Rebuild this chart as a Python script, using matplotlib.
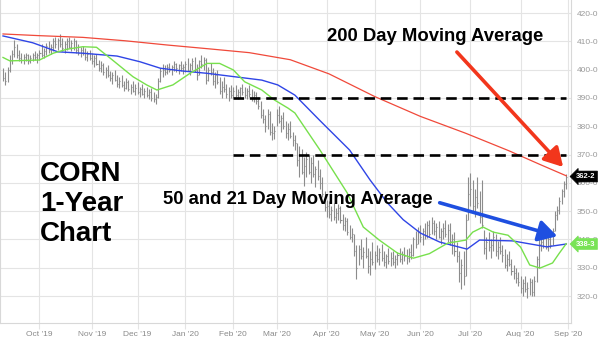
import numpy as np
import pandas as pd
import matplotlib
matplotlib.use("Agg")
import matplotlib.pyplot as plt

plt.rcParams['font.family'] = ['Liberation Sans', 'DejaVu Sans']

# ---- trading calendar -------------------------------------------------------
first_day = "2019-09-09"
last_day = "2020-08-31"
market_holidays = ["2019-11-28", "2019-12-25", "2020-01-01", "2020-01-20",
                   "2020-02-17", "2020-04-10", "2020-05-25", "2020-07-03"]

# ---- daily bars (cents/bu): Sep '19 ... Aug '20 ---------------------------
high = [
    400.5, 399, 401, 405, 407, 410.5, 409, 407, 406, 405.5, 406, 405.5, 405, 406, 406.5, 406,
    407, 409, 407.5, 409.5, 410, 409, 411, 411.5, 411, 412.5, 411, 410, 411, 411.5, 410.5, 411, 410.5, 409, 408, 408.5, 407.5, 406.5, 407,
    406, 405, 405.5, 403.5, 403, 402.5, 401, 401.5, 399.5, 399, 400, 398, 397.5, 398, 396, 397, 396.5, 395, 396, 395,
    395.5, 394, 395, 393.5, 394, 393, 393.5, 392, 391.5, 397, 400.5, 402, 401.5, 402, 402.5, 401.5, 403, 402.5, 402, 403, 402,
    403, 404, 402.5, 404, 404.5, 402, 403.5, 405, 404.5, 404, 401, 402.5, 400.5, 399, 400, 397.5, 396, 397.5, 395, 394, 394.5,
    394, 394.5, 393, 394, 395, 394, 393.5, 394.5, 393, 392.5, 392, 390.5, 389, 386, 384, 386, 385.5, 381, 380,
    386, 387, 384, 385, 382, 381, 382, 378, 377, 374, 373, 372, 369, 371, 370, 369, 370, 366, 368, 365, 362, 357,
    354, 353.5, 352, 353, 351, 352.5, 352, 349, 348, 347.5, 345, 344, 342, 338, 338, 340, 337.5, 341, 337, 336, 339,
    336, 338, 337, 338.5, 336, 335, 337, 335.5, 336, 334.5, 335.5, 337, 336, 337.5, 336.5, 337, 338.5, 341, 343, 344.5,
    345, 344, 346, 346.5, 347, 348, 347, 346, 346.5, 344, 346, 347, 345.5, 346, 342, 342.5, 339, 336, 333, 336, 349, 362,
    363.5, 361, 358, 362, 357, 361, 343.5, 341, 342.5, 340, 343, 342, 339.5, 341, 338, 336.5, 335, 336, 333, 331, 330, 328.5,
    327, 326, 327, 325, 326.5, 326, 327, 334, 340, 342, 343.5, 342, 341.5, 343, 344, 350, 352, 355, 358, 360.5, 363,
]
low = [
    396, 394.5, 395.5, 399, 402, 404.5, 404, 403, 402.5, 402, 403, 402, 402.5, 403, 403.5, 402.5,
    403.5, 404.5, 404, 405, 406, 405.5, 406.5, 407.5, 407, 408, 406.5, 406, 407, 407.5, 406.5, 407, 406, 405, 404.5, 405, 403.5, 403, 403.5,
    402, 401, 401.5, 399.5, 399, 398, 397, 397.5, 396, 395, 396, 394, 393.5, 394, 392.5, 393, 392.5, 391.5, 392, 391,
    391.5, 390.5, 391, 390, 390.5, 389.5, 389, 388.5, 388, 390, 395.5, 397.5, 398, 398.5, 399, 398, 399.5, 399, 398.5, 399.5, 398.5,
    399, 399.5, 398, 400, 399, 396.5, 398, 400.5, 400, 395, 396, 398, 394.5, 393.5, 395, 391.5, 390, 392, 390, 389, 390,
    390, 390.5, 389.5, 390, 391, 390, 389.5, 390.5, 389, 388.5, 388, 386, 383, 381, 378, 379, 377, 375, 375.5,
    380, 381, 378, 379, 376, 375, 376, 373, 371.5, 366, 362, 363, 359, 362, 363, 360, 362, 358.5, 361, 358, 355, 350,
    348, 347.5, 346.5, 347, 346, 347, 346, 343.5, 343, 341.5, 340, 339, 334, 326, 331, 333, 330, 333.5, 328, 327.5, 331,
    329.5, 332, 331, 332.5, 330.5, 330, 331.5, 330.5, 331, 330, 331, 332, 331.5, 332.5, 331.5, 332, 333, 334, 337, 338.5,
    339, 338, 340, 340.5, 341, 342, 341.5, 340, 340.5, 338.5, 340, 341, 339, 338, 335, 334, 332, 325, 322.5, 324, 327, 347,
    352, 350, 348, 351, 346, 344, 335, 333, 336, 333.5, 336, 334, 333, 335, 332, 330, 329, 330.5, 327.5, 326, 324.5, 323.5,
    321, 320, 321.5, 319.5, 320.5, 320, 320, 325, 330, 336, 337, 336.5, 336, 337, 338, 343, 347, 349, 352.5, 355, 358,
]
close = [
    397, 396, 400, 403.5, 405.5, 408, 405, 404, 403.5, 404.5, 405, 403, 404, 405, 404.5, 405,
    406, 405, 406.5, 408.5, 407, 408, 410, 409, 410.5, 409, 407.5, 409, 410, 408, 409.5, 410, 407, 406, 407, 406, 404.5, 405.5, 404,
    403, 404, 402, 400.5, 401.5, 399, 400, 398, 397, 398, 396.5, 395, 396, 394.5, 393.5, 395.5, 393, 394, 392.5, 393.5,
    392, 393, 391.5, 392.5, 391, 392, 390, 389.5, 390.5, 396, 399.5, 400, 399, 401, 400, 401, 402, 400.5, 401.5, 400.5, 401,
    402, 400, 401.5, 403, 400, 398, 403, 402, 403.5, 396.5, 400, 399, 396, 398, 395.5, 392.5, 394, 393, 391.5, 392.5, 391,
    392.5, 391, 392, 393.5, 392, 391, 392.5, 391.5, 390.5, 391, 389, 387, 384, 382.5, 380, 384.5, 378, 377.5, 378.5,
    384, 382, 383, 380, 377.5, 379, 376.5, 375, 374, 368, 370, 364, 366, 368.5, 364, 367, 363, 365, 362.5, 360, 356, 351.5,
    352, 349, 350.5, 348, 349.5, 351, 347, 345, 346.5, 342.5, 341, 342, 336, 330, 336.5, 334, 335.5, 334, 330.5, 333, 332,
    334.5, 333, 335.5, 333.5, 332, 334, 332.5, 333.5, 332, 333, 334.5, 333, 335, 334, 333.5, 335.5, 334.5, 340, 338.5, 343,
    341, 343, 341.5, 345, 342, 346, 343, 344.5, 341, 343, 344, 342, 343.5, 339.5, 340, 336, 334, 328, 331, 327, 347, 356,
    358, 352, 355, 353, 348, 345, 337, 339, 337.5, 338, 341, 336, 337.5, 336, 334.5, 331, 333, 331.5, 329, 328, 326.5, 325,
    323, 324.5, 322.5, 323, 325, 321.5, 325.5, 333, 338.5, 339, 341, 337.5, 340, 338, 343, 348.5, 350.5, 353.5, 357, 359.5, 362.25,
]

# ---- moving averages, sampled at bar numbers --------------------------------
ma200_bar = [0, 16, 35, 53.5, 72, 91, 108, 126, 143, 163, 183, 203, 222, 235.5, 247]
ma200_val = [412.6, 412.0, 411.4, 410.2, 408.7, 407.3, 406.0, 403.5, 398.5, 390.5,
             383.5, 377.5, 371.3, 366.5, 362.5]

ma50_bar = [0, 13, 24, 35, 50, 60, 69, 79, 89.5, 99.5, 113.5, 120.5, 128, 139, 152,
            161, 168.5, 175.5, 183, 191.5, 203.5, 209, 223.5, 238.5, 247]
ma50_val = [411.9, 409.5, 406.3, 405.8, 404.8, 402.8, 400.5, 399.5, 398.7, 397.7, 396.3,
            394.6, 391.0, 382.0, 371.6, 361.0, 353.0, 347.0, 342.3, 339.1, 336.6, 339.8,
            339.5, 337.4, 338.4]

ma21_bar = [0, 3, 16, 22, 28, 35, 41, 48, 57, 63, 67.5, 74.5, 82, 89.5, 95, 101, 106,
            113.5, 119, 125, 128, 139, 151, 158, 165, 173, 180, 187, 195, 203, 206,
            210.5, 215, 221.5, 227, 231, 235.5, 241, 244, 247]
ma21_val = [404.3, 403.1, 403.4, 405.8, 407.2, 408.1, 407.9, 403.4, 397.5, 394.6, 392.8,
            394.6, 398.7, 402.2, 402.2, 399.9, 395.7, 392.8, 389.3, 386.4, 384.7, 371.6,
            356.4, 344.4, 339.8, 335.2, 333.4, 335.0, 338.7, 339.8, 342.6, 344.4, 342.6,
            341.5, 337.3, 331.0, 329.9, 331.7, 335.2, 338.5]

# resistance levels marked from early February onward
resistance_levels = [390, 370]
resistance_from = "2020-02-03"

y_ticks = list(range(320, 421, 10))
y_tick_labels = [f"{v}-0" for v in y_ticks]
last_price_label = "362-2"
ma_label = "338-3"

# ---- build the calendar ----------------------------------------------------
days = pd.bdate_range(first_day, last_day)
days = days[~days.isin(pd.to_datetime(market_holidays))]
idx = np.arange(len(days))

month_starts = [i for i in range(1, len(days)) if days[i].month != days[i - 1].month]
x_ticks = month_starts + [len(days)]
x_tick_labels = [days[i].strftime("%b '%y") for i in month_starts] + ["Sep '20"]

# ---- figure -----------------------------------------------------------------
W, H = 600, 337
fig = plt.figure(figsize=(W / 100, H / 100), dpi=100)
ax = fig.add_axes([0.0, (H - 323) / H, 571 / W, 323 / H])

grid_c = "#e4e4e4"
ax.set_xlim(-1.32, 249.1)
ax.set_ylim(310.5, 424.6)
ax.set_yticks(y_ticks)
ax.set_yticklabels(y_tick_labels)
ax.set_xticks(x_ticks)
ax.set_xticklabels(x_tick_labels)
ax.yaxis.tick_right()
ax.grid(True, color=grid_c, lw=0.8)
ax.set_axisbelow(True)
for s in ax.spines.values():
    s.set_color("#d8d8d8")
    s.set_linewidth(0.8)
ax.spines["top"].set_visible(False)
ax.tick_params(axis="y", length=0, pad=4, labelsize=6, labelcolor="#9a9a9a")
ax.tick_params(axis="x", length=4, width=0.8, color=grid_c, pad=1.5,
               labelsize=6, labelcolor="#8a8a8a")

# OHLC-style bars
bar_c = "#8c8c8c"
ax.vlines(idx, low, high, color=bar_c, lw=0.8)
ax.hlines(close, idx, idx + 0.45, color=bar_c, lw=0.8)

# moving averages
ax.plot(ma200_bar, ma200_val, color="#f0493a", lw=0.9)
ax.plot(ma50_bar, ma50_val, color="#2f45e6", lw=1.0)
ax.plot(ma21_bar, ma21_val, color="#77e04c", lw=1.0)

# resistance lines
start = int(np.searchsorted(days, pd.Timestamp(resistance_from)))
for lvl in resistance_levels:
    ax.hlines(lvl, start, len(days) - 1, color="black", lw=1.9,
              linestyles=(0, (4, 2.2)))

# value tags on the price scale
ax.annotate(last_price_label, xy=(1.0, close[-1]), xycoords=("axes fraction", "data"),
            xytext=(5, 0), textcoords="offset pixels", ha="left", va="center",
            fontsize=5.5, color="white", fontweight="bold",
            bbox=dict(boxstyle="larrow,pad=0.25", fc="black", ec="black", lw=0.5),
            annotation_clip=False)
ax.annotate(ma_label, xy=(1.0, ma50_val[-1]), xycoords=("axes fraction", "data"),
            xytext=(5, 0), textcoords="offset pixels", ha="left", va="center",
            fontsize=5.5, color="white", fontweight="bold",
            bbox=dict(boxstyle="larrow,pad=0.25", fc="#78e356", ec="#78e356", lw=0.5),
            annotation_clip=False)

# titles and callouts
fig.text(40 / W, 1 - 161 / H, "CORN\n1-Year\nChart", ha="left", va="top",
         fontsize=20, fontweight="bold", linespacing=1.2, color="black")
fig.text(327 / W, 1 - 41 / H, "200 Day Moving Average", ha="left", va="baseline",
         fontsize=13.3, fontweight="bold", color="black")
fig.text(163 / W, 1 - 203.5 / H, "50 and 21 Day Moving Average", ha="left", va="baseline",
         fontsize=13.3, fontweight="bold", color="black")

fig.add_artist(plt.matplotlib.patches.FancyArrowPatch(
    (455, H - 50), (565, H - 169), transform=None,
    arrowstyle="-|>,head_length=0.7,head_width=0.4", mutation_scale=16,
    color="#f2361c", lw=2.6))
fig.add_artist(plt.matplotlib.patches.FancyArrowPatch(
    (437, H - 202), (560, H - 237), transform=None,
    arrowstyle="-|>,head_length=0.7,head_width=0.4", mutation_scale=16,
    color="#1e4fe0", lw=2.6))

fig.savefig("out.png", dpi=100)
